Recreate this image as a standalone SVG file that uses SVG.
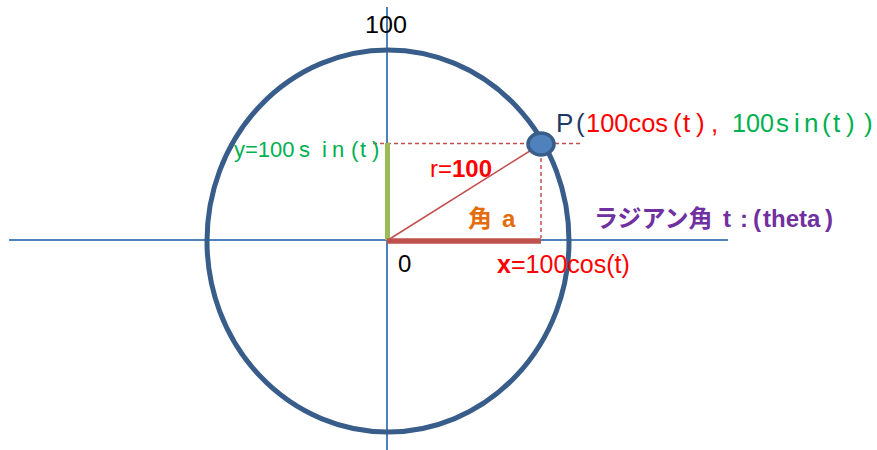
<svg xmlns="http://www.w3.org/2000/svg" width="877" height="450" viewBox="0 0 877 450">
<style>
  text { font-family: "Liberation Sans", "Noto Sans CJK JP", sans-serif; }
  .axis { stroke: #4F81BD; stroke-width: 2; fill: none; }
  .dash { stroke: #C0504D; stroke-width: 1.5; stroke-dasharray: 4 3; fill: none; }
  .red { fill: #FF0000; }
  .green { fill: #00B050; }
  .navy { fill: #1F3864; }
  .blk { fill: #000000; }
</style>
<rect width="877" height="450" fill="#FFFFFF"/>
<g id="connectors">
  <line class="axis" x1="9" y1="240" x2="728" y2="240"/>
  <line class="axis" x1="387" y1="7" x2="387" y2="450"/>
  <line class="dash" x1="373" y1="143.5" x2="583" y2="143.5"/>
  <line class="dash" x1="541" y1="144" x2="541" y2="238"/>
  <line x1="388" y1="240" x2="541" y2="144" stroke="#C0504D" stroke-width="1.5"/>
  <line x1="387.5" y1="143" x2="387.5" y2="240" stroke="#9BBB59" stroke-width="5"/>
  <line x1="387" y1="241" x2="541" y2="241" stroke="#C0504D" stroke-width="5.5"/>
</g>
<g id="circle">
  <ellipse cx="388" cy="241" rx="181" ry="191" fill="none" stroke="#385D8A" stroke-width="5"/>
</g>
<g id="pointP">
  <ellipse cx="541" cy="144" rx="13" ry="11" fill="#4F81BD" stroke="#385D8A" stroke-width="3.5"/>
</g>
<g id="labels">
  <text class="blk" x="365" y="33" font-size="24" textLength="42" lengthAdjust="spacingAndGlyphs">100</text>
  <text class="blk" x="398" y="272" font-size="24">0</text>
  <text class="green" y="157" font-size="22"><tspan x="234">y=100</tspan><tspan x="299 322 332 351 360 372">sin(t)</tspan></text>
  <text class="red" x="430" y="177" font-size="24">r=<tspan font-weight="bold">100</tspan></text>
  <text fill="#E46C0A" font-weight="bold" font-size="24" y="227"><tspan x="468">角</tspan><tspan x="502">a</tspan></text>
  <text class="red" y="273" font-size="25"><tspan x="497" font-weight="bold">x</tspan><tspan x="511">=100cos(t)</tspan></text>
  <text font-size="26" y="132"><tspan class="navy" x="556">P</tspan><tspan class="navy" x="576">(</tspan><tspan class="red" x="586" textLength="82" lengthAdjust="spacingAndGlyphs">100cos</tspan><tspan class="red" x="673 683 696 711">(t),</tspan><tspan class="green" x="732" textLength="42" lengthAdjust="spacingAndGlyphs">100</tspan><tspan class="green" x="776 794 804 822 833 846 864">sin(t))</tspan></text>
  <text fill="#7030A0" font-weight="bold" font-size="24" y="227"><tspan x="594">ラジアン角</tspan><tspan x="723 740 753">t:(</tspan><tspan x="763">theta</tspan><tspan x="825">)</tspan></text>
</g>
</svg>
